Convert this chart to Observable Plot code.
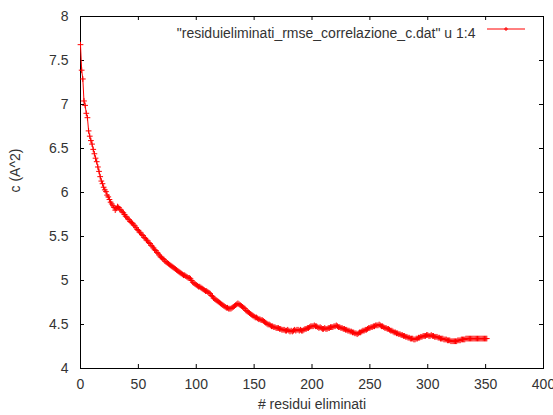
<!DOCTYPE html>
<html>
<head>
<meta charset="utf-8">
<script src="https://cdn.jsdelivr.net/npm/d3@7"></script>
<script src="https://cdn.jsdelivr.net/npm/@observablehq/plot@0.6"></script>
<style>
  html, body { margin: 0; padding: 0; background: #fff; }
  #chart svg { display: block; }
</style>
</head>
<body>
<div id="chart"></div>
<script>
// c (A^2) after removing residues, one value per residue removed (0 .. 351)
const cValues = [
  7.68, 7.39, 7.29, 7.04, 6.99, 6.90, 6.85, 6.70, 6.64, 6.59,
  6.55, 6.49, 6.44, 6.39, 6.35, 6.29, 6.24, 6.18, 6.13, 6.10,
  6.06, 6.03, 6.01, 5.97, 5.95, 5.92, 5.89, 5.87, 5.85, 5.83,
  5.80, 5.82, 5.84, 5.83, 5.81, 5.80, 5.78, 5.77, 5.75, 5.73,
  5.72, 5.70, 5.69, 5.67, 5.66, 5.65, 5.63, 5.62, 5.60, 5.58,
  5.57, 5.55, 5.54, 5.52, 5.51, 5.49, 5.48, 5.46, 5.45, 5.43,
  5.42, 5.40, 5.39, 5.37, 5.35, 5.34, 5.32, 5.31, 5.29, 5.27,
  5.26, 5.25, 5.24, 5.22, 5.21, 5.20, 5.19, 5.18, 5.17, 5.16,
  5.15, 5.14, 5.13, 5.12, 5.11, 5.10, 5.09, 5.08, 5.07, 5.06,
  5.06, 5.05, 5.04, 5.03, 5.03, 5.02, 5.00, 4.98, 4.97, 4.96,
  4.95, 4.94, 4.93, 4.93, 4.92, 4.91, 4.90, 4.89, 4.88, 4.88,
  4.87, 4.86, 4.85, 4.83, 4.82, 4.80, 4.79, 4.78, 4.77, 4.76,
  4.75, 4.74, 4.73, 4.72, 4.71, 4.70, 4.69, 4.69, 4.68, 4.68,
  4.68, 4.69, 4.70, 4.71, 4.72, 4.73, 4.74, 4.73, 4.72, 4.71,
  4.70, 4.69, 4.68, 4.66, 4.65, 4.64, 4.63, 4.62, 4.61, 4.60,
  4.59, 4.58, 4.58, 4.57, 4.56, 4.56, 4.55, 4.55, 4.54, 4.53,
  4.52, 4.51, 4.50, 4.50, 4.49, 4.48, 4.48, 4.47, 4.47, 4.46,
  4.46, 4.46, 4.45, 4.45, 4.44, 4.44, 4.44, 4.43, 4.43, 4.44,
  4.43, 4.42, 4.43, 4.42, 4.43, 4.44, 4.43, 4.44, 4.44, 4.43,
  4.44, 4.43, 4.43, 4.44, 4.45, 4.45, 4.46, 4.46, 4.47, 4.48,
  4.48, 4.48, 4.49, 4.48, 4.48, 4.47, 4.46, 4.47, 4.46, 4.45,
  4.45, 4.46, 4.45, 4.45, 4.46, 4.46, 4.47, 4.47, 4.47, 4.48,
  4.48, 4.49, 4.48, 4.47, 4.47, 4.46, 4.46, 4.45, 4.45, 4.44,
  4.44, 4.43, 4.43, 4.42, 4.42, 4.41, 4.41, 4.40, 4.40, 4.39,
  4.40, 4.41, 4.41, 4.42, 4.43, 4.43, 4.44, 4.44, 4.45, 4.46,
  4.46, 4.47, 4.47, 4.48, 4.48, 4.49, 4.49, 4.49, 4.50, 4.49,
  4.48, 4.48, 4.47, 4.46, 4.46, 4.45, 4.45, 4.44, 4.43, 4.43,
  4.42, 4.41, 4.41, 4.40, 4.40, 4.39, 4.39, 4.38, 4.38, 4.37,
  4.37, 4.36, 4.36, 4.35, 4.35, 4.34, 4.34, 4.34, 4.33, 4.33,
  4.34, 4.34, 4.35, 4.35, 4.36, 4.36, 4.37, 4.37, 4.37, 4.38,
  4.38, 4.37, 4.37, 4.38, 4.37, 4.37, 4.36, 4.36, 4.36, 4.35,
  4.35, 4.34, 4.34, 4.34, 4.33, 4.33, 4.33, 4.32, 4.32, 4.32,
  4.31, 4.31, 4.31, 4.31, 4.31, 4.31, 4.32, 4.32, 4.32, 4.33,
  4.33, 4.33, 4.33, 4.34, 4.34, 4.34, 4.34, 4.34, 4.34, 4.34,
  4.34, 4.34, 4.34, 4.34, 4.34, 4.34, 4.34, 4.34, 4.34, 4.34,
  4.34, 4.34
];
// number of residues removed for each value
const residues = cValues.map((_, i) => i);

const xTicks = [0, 50, 100, 150, 200, 250, 300, 350, 400];
const yTicks = [4, 4.5, 5, 5.5, 6, 6.5, 7, 7.5, 8];

const xLabel = "# residui eliminati";
const yLabel = "c (A^2)";
const seriesName = "\"residuieliminati_rmse_correlazione_c.dat\" u 1:4";

const data = residues.map((r, i) => ({r, c: cValues[i]}));

const W = 553, H = 415;
const mL = 80, mR = 10, mT = 16, mB = 47;
const tickLen = 4;
const innerH = H - mT - mB;
const innerW = W - mL - mR;
const font = "'Liberation Sans', Arial, sans-serif";
const fs = 14;
const textColor = "#333";

const plot = Plot.plot({
  width: W,
  height: H,
  marginLeft: mL,
  marginRight: mR,
  marginTop: mT,
  marginBottom: mB,
  style: {fontFamily: font, fontSize: fs + "px", color: textColor, background: "#fff"},
  x: {domain: [0, 400]},
  y: {domain: [4, 8]},
  marks: [
    // tick labels only; inward ticks are drawn below on all four sides
    Plot.axisX(xTicks, {tickSize: 0, tickPadding: 11, tickFormat: d => String(d), label: null, fontSize: fs}),
    Plot.axisY(yTicks, {tickSize: 0, tickPadding: 12, tickFormat: d => String(d), label: null, fontSize: fs}),
    Plot.tickX(xTicks, {x: d => d, stroke: "black", insetTop: innerH - tickLen}),
    Plot.tickX(xTicks, {x: d => d, stroke: "black", insetBottom: innerH - tickLen}),
    Plot.tickY(yTicks, {y: d => d, stroke: "black", insetRight: innerW - tickLen}),
    Plot.tickY(yTicks, {y: d => d, stroke: "black", insetLeft: innerW - tickLen}),
    Plot.frame({stroke: "black", strokeWidth: 1}),
    Plot.line(data, {x: "r", y: "c", stroke: "#ff0000", strokeWidth: 1}),
    Plot.dot(data, {x: "r", y: "c", symbol: "plus", stroke: "#ff0000", r: 2, strokeWidth: 1}),
    // axis titles
    Plot.text([xLabel], {frameAnchor: "bottom", dy: 40, fontSize: fs, fill: textColor}),
    Plot.text([yLabel], {frameAnchor: "left", dx: -65, rotate: -90, fontSize: fs, fill: textColor}),
    // key
    Plot.text([seriesName], {frameAnchor: "top-right", textAnchor: "end", dx: -68, dy: 12, fontSize: fs, fill: textColor})
  ]
});

// key sample: red line with a cross in the middle
const svg = d3.select(plot);
const kx1 = W - mR - 56, kx2 = W - mR - 18, ky = mT + 13;
svg.append("line")
  .attr("x1", kx1).attr("x2", kx2).attr("y1", ky).attr("y2", ky)
  .attr("stroke", "#ff0000").attr("stroke-width", 1);
const km = (kx1 + kx2) / 2;
svg.append("path")
  .attr("d", `M${km - 2},${ky}H${km + 2}M${km},${ky - 2}V${ky + 2}`)
  .attr("stroke", "#ff0000").attr("stroke-width", 1).attr("fill", "none");

document.getElementById("chart").appendChild(plot);
</script>
</body>
</html>
